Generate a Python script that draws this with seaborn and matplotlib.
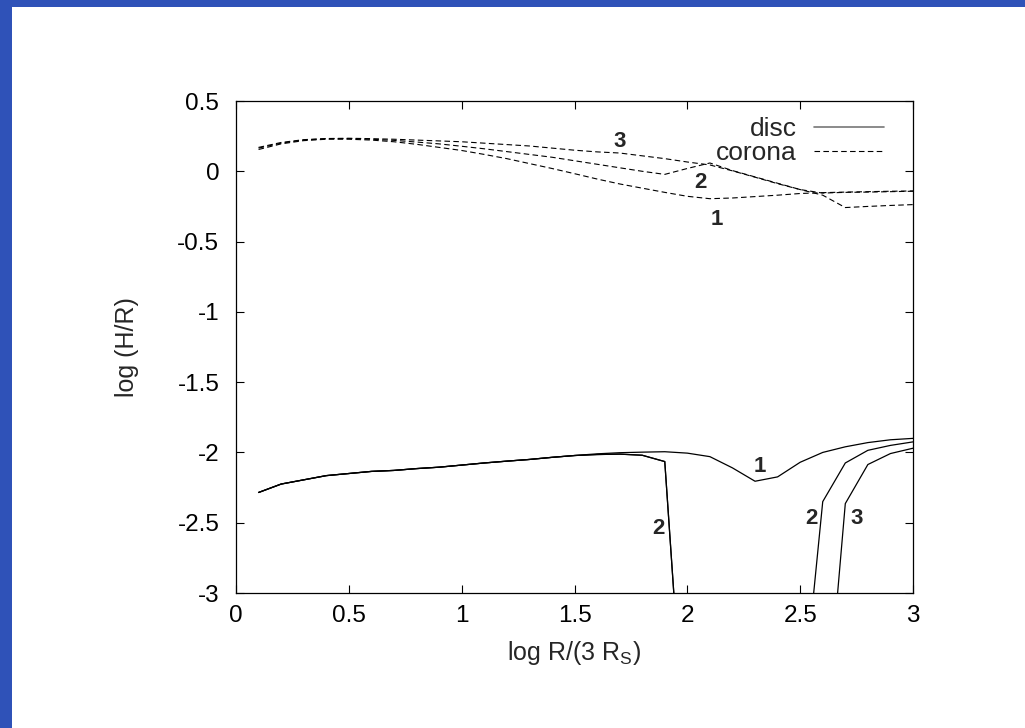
import matplotlib
matplotlib.use("Agg")
import matplotlib.pyplot as plt
from matplotlib.lines import Line2D
from matplotlib.patches import Rectangle
import seaborn as sns

# log R/(3 R_S), paso de 0.1
x = [0.1, 0.2, 0.3, 0.4, 0.5, 0.6, 0.7, 0.8, 0.9, 1.0,
     1.1, 1.2, 1.3, 1.4, 1.5, 1.6, 1.7, 1.8, 1.9, 2.0,
     2.1, 2.2, 2.3, 2.4, 2.5, 2.6, 2.7, 2.8, 2.9, 3.0]

# disco (linea continua)
disc_1 = [-2.285, -2.225, -2.195, -2.165, -2.150, -2.135, -2.128, -2.115, -2.105, -2.090,
          -2.075, -2.062, -2.050, -2.035, -2.022, -2.010, -2.002, -1.998, -1.995, -2.005,
          -2.030, -2.110, -2.205, -2.174, -2.070, -2.000, -1.960, -1.930, -1.910, -1.900]
disc_2 = [-2.285, -2.225, -2.195, -2.165, -2.150, -2.135, -2.128, -2.115, -2.105, -2.090,
          -2.075, -2.062, -2.050, -2.035, -2.022, -2.015, -2.012, -2.020, -2.065, -4.400,
          -4.500, -4.500, -4.500, -4.500, -3.970, -2.350, -2.075, -1.985, -1.950, -1.925]
disc_3 = [-2.285, -2.225, -2.195, -2.165, -2.150, -2.135, -2.128, -2.115, -2.105, -2.090,
          -2.075, -2.062, -2.050, -2.035, -2.022, -2.015, -2.012, -2.020, -2.065, -4.400,
          -4.500, -4.500, -4.500, -4.500, -4.500, -4.230, -2.364, -2.086, -2.008, -1.970]

# corona (linea discontinua)
corona_1 = [0.155, 0.195, 0.218, 0.228, 0.228, 0.222, 0.210, 0.192, 0.170, 0.148,
            0.120, 0.090, 0.055, 0.020, -0.017, -0.055, -0.090, -0.120, -0.150, -0.178,
            -0.195, -0.190, -0.180, -0.170, -0.158, -0.152, -0.148, -0.145, -0.142, -0.140]
corona_2 = [0.165, 0.200, 0.222, 0.232, 0.233, 0.228, 0.220, 0.208, 0.195, 0.178,
            0.160, 0.140, 0.120, 0.100, 0.075, 0.050, 0.025, 0.000, -0.022, 0.020,
            0.059, 0.005, -0.040, -0.085, -0.130, -0.155, -0.150, -0.148, -0.145, -0.142]
corona_3 = [0.170, 0.205, 0.225, 0.233, 0.235, 0.232, 0.228, 0.222, 0.216, 0.210,
            0.200, 0.190, 0.180, 0.165, 0.150, 0.138, 0.130, 0.110, 0.090, 0.066,
            0.045, 0.003, -0.042, -0.088, -0.130, -0.170, -0.258, -0.250, -0.243, -0.237]

# etiquetas de las curvas: (texto, x, y)
etiquetas = [("1", 2.32, -2.10), ("2", 1.87, -2.54), ("2", 2.55, -2.47), ("3", 2.75, -2.47),
             ("3", 1.70, 0.21), ("2", 2.06, -0.08), ("1", 2.13, -0.34)]

sns.set_theme(style="ticks")
plt.rcParams['font.family'] = ['Liberation Sans', 'DejaVu Sans']
plt.rcParams['mathtext.fontset'] = 'custom'
plt.rcParams['mathtext.rm'] = 'Liberation Sans'
plt.rcParams['mathtext.it'] = 'Liberation Sans'

fig = plt.figure(figsize=(10.25, 7.28), dpi=100, facecolor='#2f52b8')
# marco blanco (el fondo azul queda como borde a la izquierda y arriba)
fig.patches.append(Rectangle((12 / 1025, 0), 1, 1 - 7 / 728, transform=fig.transFigure,
                             facecolor='white', edgecolor='none', zorder=-10))
ax = fig.add_axes([236 / 1025, 1 - 593 / 728, 677 / 1025, 492 / 728])
ax.set_facecolor('white')

for serie in [disc_1, disc_2, disc_3]:
    sns.lineplot(x=x, y=serie, ax=ax, color='black', linewidth=0.9, sort=False)
for serie in [corona_1, corona_2, corona_3]:
    sns.lineplot(x=x, y=serie, ax=ax, color='black', linewidth=0.8, sort=False,
                 linestyle=(0, (5, 3)))

for texto, tx, ty in etiquetas:
    ax.text(tx, ty, texto, fontsize=16, fontweight='bold', ha='center', va='center')

ax.set_xlim(0, 3)
ax.set_ylim(-3, 0.5)
ax.set_xticks([0, 0.5, 1, 1.5, 2, 2.5, 3])
ax.set_xticklabels(['0', '0.5', '1', '1.5', '2', '2.5', '3'])
ax.set_yticks([0.5, 0, -0.5, -1, -1.5, -2, -2.5, -3])
ax.set_yticklabels(['0.5', '0', '-0.5', '-1', '-1.5', '-2', '-2.5', '-3'])
ax.tick_params(direction='in', length=6, width=0.8, labelsize=17.5,
               top=True, right=True, colors='black')
ax.tick_params(axis='x', pad=9)
ax.tick_params(axis='y', pad=12)
for lado in ax.spines.values():
    lado.set_visible(True)
    lado.set_linewidth(0.9)
    lado.set_color('black')

ax.set_xlabel('log R/(3 R$_\\mathrm{S}$)', fontsize=18)
ax.set_ylabel('log (H/R)', fontsize=18)
ax.xaxis.set_label_coords(0.5, -0.093)
ax.yaxis.set_label_coords(-0.143, 0.5)

manejadores = [Line2D([], [], color='#777777', linewidth=1.2),
               Line2D([], [], color='black', linewidth=0.8, linestyle=(0, (5, 3)))]
ax.legend(manejadores, ['disc', 'corona'], loc='upper right', frameon=False,
          markerfirst=False, fontsize=19, handlelength=2.65, handletextpad=0.65,
          labelspacing=0.0, borderaxespad=0.2, bbox_to_anchor=(0.98, 1.0))

fig.savefig('out.png', dpi=100, facecolor=fig.get_facecolor())
